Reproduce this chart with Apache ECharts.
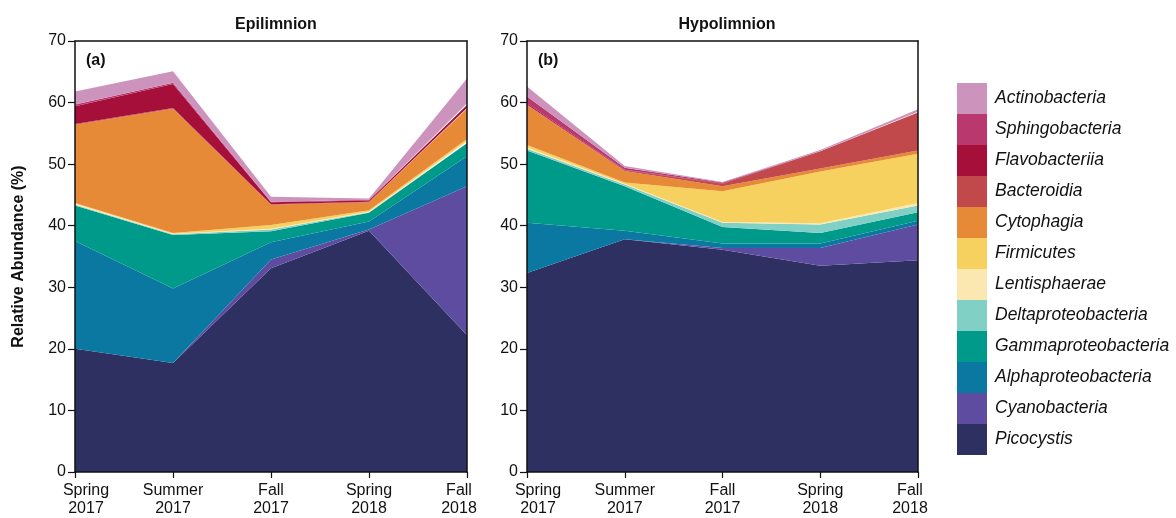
<!DOCTYPE html>
<html>
<head>
<meta charset="utf-8">
<script src="https://cdn.jsdelivr.net/npm/echarts@6/dist/echarts.min.js"></script>
<style>
  html, body { margin: 0; padding: 0; background: #fff; }
  #chart { width: 1176px; height: 518px; }
</style>
</head>
<body>
<div id="chart"></div>
<script>
// Sampling seasons (x axis)
const categories = ['Spring\n2017', 'Summer\n2017', 'Fall\n2017', 'Spring\n2018', 'Fall\n2018'];

// Taxa, bottom of the stack first
const taxa = ['Picocystis', 'Cyanobacteria', 'Alphaproteobacteria', 'Gammaproteobacteria',
  'Deltaproteobacteria', 'Lentisphaerae', 'Firmicutes', 'Cytophagia', 'Bacteroidia',
  'Flavobacteriia', 'Sphingobacteria', 'Actinobacteria'];

const taxonColors = ['#2d3061', '#5e4ca1', '#0b78a1', '#009a8b', '#80d0c6', '#fbe8b1',
  '#f7d15f', '#e68a37', '#c2494b', '#a60f3a', '#b9396f', '#cc94bd'];

// Relative abundance (%) in the epilimnion
const epiPicocystis          = [20.0, 17.7, 33.1, 39.2, 22.2];
const epiCyanobacteria       = [0.0, 0.0, 1.4, 0.2, 24.2];
const epiAlphaproteobacteria = [17.5, 12.1, 2.8, 1.3, 4.9];
const epiGammaproteobacteria = [5.8, 8.7, 1.8, 1.4, 2.1];
const epiDeltaproteobacteria = [0.1, 0.1, 0.3, 0.1, 0.2];
const epiLentisphaerae       = [0.2, 0.1, 0.1, 0.1, 0.1];
const epiFirmicutes          = [0.1, 0.1, 0.6, 0.2, 0.4];
const epiCytophagia          = [12.7, 20.2, 3.3, 1.3, 4.9];
const epiBacteroidia         = [0.1, 0.1, 0.1, 0.1, 0.1];
const epiFlavobacteriia      = [2.9, 3.9, 0.3, 0.2, 0.5];
const epiSphingobacteria     = [0.3, 0.2, 0.1, 0.1, 0.3];
const epiActinobacteria      = [2.1, 1.9, 0.8, 0.2, 4.0];

// Relative abundance (%) in the hypolimnion
const hypoPicocystis          = [32.3, 37.8, 36.1, 33.5, 34.4];
const hypoCyanobacteria       = [0.0, 0.0, 0.3, 2.9, 5.8];
const hypoAlphaproteobacteria = [8.2, 1.4, 0.7, 0.7, 0.6];
const hypoGammaproteobacteria = [11.7, 7.2, 2.7, 1.7, 1.4];
const hypoDeltaproteobacteria = [0.3, 0.3, 0.7, 1.4, 1.1];
const hypoLentisphaerae       = [0.2, 0.1, 0.1, 0.2, 0.4];
const hypoFirmicutes          = [0.4, 0.2, 5.0, 8.4, 8.0];
const hypoCytophagia          = [6.5, 1.9, 0.8, 0.5, 0.5];
const hypoBacteroidia         = [0.1, 0.1, 0.4, 2.8, 6.2];
const hypoFlavobacteriia      = [0.2, 0.1, 0.1, 0.0, 0.0];
const hypoSphingobacteria     = [1.1, 0.3, 0.1, 0.0, 0.1];
const hypoActinobacteria      = [1.6, 0.3, 0.1, 0.2, 0.4];

const epiData = [epiPicocystis, epiCyanobacteria, epiAlphaproteobacteria, epiGammaproteobacteria,
  epiDeltaproteobacteria, epiLentisphaerae, epiFirmicutes, epiCytophagia, epiBacteroidia,
  epiFlavobacteriia, epiSphingobacteria, epiActinobacteria];
const hypoData = [hypoPicocystis, hypoCyanobacteria, hypoAlphaproteobacteria, hypoGammaproteobacteria,
  hypoDeltaproteobacteria, hypoLentisphaerae, hypoFirmicutes, hypoCytophagia, hypoBacteroidia,
  hypoFlavobacteriia, hypoSphingobacteria, hypoActinobacteria];

const FONT = '"Liberation Sans", Arial, Helvetica, sans-serif';
const INK = '#111';

// First and last season labels are nudged inwards, as in a boxed panel
function seasonAxisData() {
  return categories.map((c, i) => {
    if (i === 0) return { value: c, textStyle: { padding: [0, 0, 0, 22] } };
    if (i === categories.length - 1) return { value: c, textStyle: { padding: [0, 16, 0, 0] } };
    return c;
  });
}

function bottomAxis(gridIndex) {
  return {
    type: 'category', gridIndex, data: seasonAxisData(), boundaryGap: false,
    axisLine: { show: true, lineStyle: { color: INK, width: 1.5 } },
    axisTick: { show: true, alignWithLabel: true, length: 6, lineStyle: { color: INK, width: 1.2 } },
    axisLabel: { color: INK, fontFamily: FONT, fontSize: 16, lineHeight: 18, margin: 10, interval: 0 },
    splitLine: { show: false }, z: 10
  };
}
function topAxis(gridIndex) {
  return {
    type: 'category', gridIndex, position: 'top', data: categories, boundaryGap: false,
    axisLine: { show: true, onZero: false, lineStyle: { color: INK, width: 1.5 } },
    axisTick: { show: false }, axisLabel: { show: false }, splitLine: { show: false }, z: 10
  };
}
function leftAxis(gridIndex, withName) {
  return {
    type: 'value', gridIndex, min: 0, max: 70, interval: 10,
    name: withName ? 'Relative Abundance (%)' : '',
    nameLocation: 'middle', nameGap: 48, nameRotate: 90,
    nameTextStyle: { color: INK, fontFamily: FONT, fontSize: 16, fontWeight: 'bold' },
    axisLine: { show: true, lineStyle: { color: INK, width: 1.5 } },
    axisTick: { show: true, length: 7, lineStyle: { color: INK, width: 1.2 } },
    axisLabel: { color: INK, fontFamily: FONT, fontSize: 16, margin: 9 },
    splitLine: { show: false }, z: 10
  };
}
function rightAxis(gridIndex) {
  return {
    type: 'value', gridIndex, position: 'right', min: 0, max: 70, interval: 10,
    axisLine: { show: true, onZero: false, lineStyle: { color: INK, width: 1.5 } },
    axisTick: { show: false }, axisLabel: { show: false }, splitLine: { show: false }, z: 10
  };
}

function areaSeries(dataSets, axisIndex, stackName) {
  return taxa.map((name, i) => ({
    name, type: 'line', stack: stackName,
    xAxisIndex: axisIndex, yAxisIndex: axisIndex,
    data: dataSets[i],
    symbol: 'none', smooth: false,
    lineStyle: { width: 0 },
    itemStyle: { color: taxonColors[i] },
    areaStyle: { color: taxonColors[i], opacity: 1 },
    emphasis: { disabled: true },
    silent: true
  }));
}

const chart = echarts.init(document.getElementById('chart'), null, { renderer: 'canvas' });
chart.setOption({
  animation: false,
  backgroundColor: '#fff',
  title: [
    { text: 'Epilimnion', left: 271, top: 12, textAlign: 'center',
      textStyle: { fontFamily: FONT, fontSize: 16, fontWeight: 'bold', color: INK } },
    { text: 'Hypolimnion', left: 722, top: 12, textAlign: 'center',
      textStyle: { fontFamily: FONT, fontSize: 16, fontWeight: 'bold', color: INK } },
    { text: '(a)', left: 81, top: 48,
      textStyle: { fontFamily: FONT, fontSize: 16, fontWeight: 'bold', color: INK } },
    { text: '(b)', left: 533, top: 48,
      textStyle: { fontFamily: FONT, fontSize: 16, fontWeight: 'bold', color: INK } }
  ],
  legend: {
    orient: 'vertical', left: 957, top: 83, padding: 0,
    data: taxa.slice().reverse(),
    icon: 'rect', itemWidth: 30, itemHeight: 31, itemGap: 0,
    selectedMode: false,
    textStyle: { fontFamily: FONT, fontSize: 17.5, fontStyle: 'italic', color: INK, padding: [0, 0, 0, 3] }
  },
  grid: [
    { left: 75, right: 709, top: 41, bottom: 45 },
    { left: 527, right: 258, top: 41, bottom: 45 }
  ],
  xAxis: [bottomAxis(0), bottomAxis(1), topAxis(0), topAxis(1)],
  yAxis: [leftAxis(0, true), leftAxis(1, false), rightAxis(0), rightAxis(1)],
  series: [].concat(areaSeries(epiData, 0, 'epi'), areaSeries(hypoData, 1, 'hypo'))
});
</script>
</body>
</html>
